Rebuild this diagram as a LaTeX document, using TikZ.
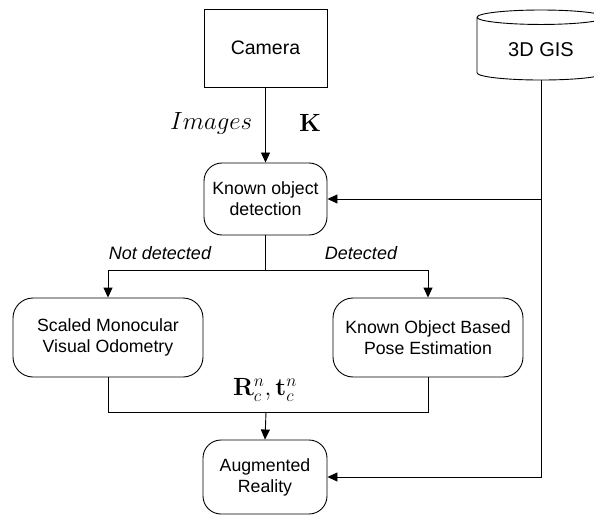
\documentclass[tikz,border=0pt]{standalone}
\usepackage[no-math]{fontspec}
\usepackage{amsmath}
\usepackage{tikz}
\usetikzlibrary{arrows.meta,shapes.geometric}
\newfontfamily\helv{Liberation Sans}

\begin{document}
\begin{tikzpicture}[x=1pt,y=1pt,line width=0.9pt,
    >={Triangle[length=10pt,width=9pt]},
    block/.style={draw,align=center,font=\helv\fontsize{17.7}{21}\selectfont,
      minimum width=190pt,minimum height=79pt,rounded corners=20pt},
    lbl/.style={font=\helv\itshape\fontsize{18}{21}\selectfont},
    mathlbl/.style={font=\fontsize{23}{26}\selectfont}]
    \useasboundingbox (0,0) rectangle (594,515);
    \node[draw,minimum width=123pt,minimum height=78pt,
      font=\helv\fontsize{19.5}{22}\selectfont] (camera) at (265.5,467) {Camera};
    \node[draw,cylinder,shape border rotate=90,aspect=0.2,
      minimum width=128pt,minimum height=70pt,
      font=\helv\fontsize{20}{23}\selectfont] (gis) at (541,465) {3D GIS};
    \node[block,minimum width=123pt,minimum height=72pt,rounded corners=18pt] (kod) at (265.5,316) {Known object\\detection};
    \node[block] (scaled) at (108,177.5) {Scaled Monocular\\Visual Odometry};
    \node[block] (kobp) at (428,177.5) {Known Object Based\\Pose Estimation};
    \node[block,minimum width=124pt,minimum height=74pt,rounded corners=18pt] (ar) at (265,38) {Augmented\\Reality};
    \coordinate (split) at (265.5,245);
    \coordinate (merge) at (266,103);
    % camera to detection
    \draw[->] (camera) -- (kod);
    \node[mathlbl,left] (images) at (256,392) {$Images$};
    \node[mathlbl] (kmat) at (310,392) {$\mathbf{K}$};
    % branches
    \draw (kod.south) -- (split);
    \draw[->] (split) -| (scaled.north);
    \draw[->] (split) -| (kobp.north);
    \node[lbl] (notdet) at (160,262) {Not detected};
    \node[lbl] (det) at (361,262) {Detected};
    % pose to AR
    \draw (scaled.south) |- (merge);
    \draw (kobp.south) |- (merge);
    \draw[->] (merge) -- (ar.north);
    \node[mathlbl] (pose) at (265,125) {$\mathbf{R}_c^n,\mathbf{t}_c^n$};
    % 3D GIS
    \draw[->] (gis.south) |- (ar.east);
    \draw[->] (gis.south |- kod.east) -- (kod.east);
\end{tikzpicture}
\end{document}
